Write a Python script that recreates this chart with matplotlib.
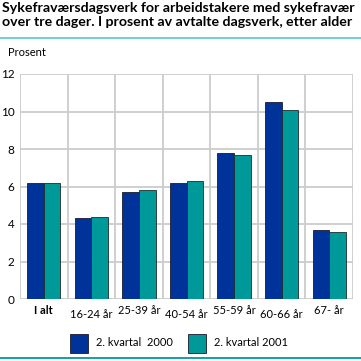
import matplotlib
matplotlib.use("Agg")
from matplotlib import pyplot as plt
from matplotlib.patches import Rectangle
from matplotlib.lines import Line2D
import numpy as np

categories = ["I alt", "16-24 år", "25-39 år", "40-54 år", "55-59 år", "60-66 år", "67- år"]
q2_2000 = [6.2, 4.3, 5.7, 6.2, 7.8, 10.5, 3.7]
q2_2001 = [6.2, 4.4, 5.8, 6.3, 7.7, 10.1, 3.6]
series_names = ["2. kvartal  2000", "2. kvartal 2001"]
yticks = [0, 2, 4, 6, 8, 10, 12]

blue = "#003399"
teal = "#009999"
grid = "#cccccc"

plt.rcParams["font.family"] = ["Lato", "DejaVu Sans"]

fig = plt.figure(figsize=(3.61, 3.61), dpi=100)
ax = fig.add_axes([20 / 361, 62 / 361, 333 / 361, 225 / 361])

x = np.arange(len(categories))
w = 0.35
ax.bar(x - w / 2, q2_2000, w, color=blue, edgecolor="#1a1a2e", linewidth=0.6, zorder=3)
ax.bar(x + w / 2, q2_2001, w, color=teal, edgecolor="#1a2e2e", linewidth=0.6, zorder=3)

ax.set_xlim(-0.5, len(categories) - 0.5)
ax.set_ylim(0, 12)
ax.set_yticks(yticks)
ax.set_yticklabels([str(t) for t in yticks], fontsize=8.5)
ax.set_xticks(x)
ax.set_xticklabels([])
ax.tick_params(axis="both", length=0, pad=4)

# grid: horizontal at ticks, vertical at category boundaries
for t in yticks:
    ax.axhline(t, color=grid, lw=1.3, zorder=1)
for b in np.arange(-0.5, len(categories), 1.0):
    ax.axvline(b, color=grid, lw=1.3, zorder=1)
for s in ax.spines.values():
    s.set_visible(False)

# staggered category labels
for i, c in enumerate(categories):
    off = -4 if i % 2 == 0 else -7
    ax.annotate(c, (i, 0), xycoords="data", xytext=(0, off),
                textcoords="offset points", ha="center", va="top", fontsize=8,
                fontweight="bold" if i == 0 else "normal")

title = fig.text(2 / 361, 1 - 2 / 361,
                 "Sykefraværsdagsverk for arbeidstakere med sykefravær\n"
                 "over tre dager. I prosent av avtalte dagsverk, etter alder",
                 ha="left", va="top", fontsize=9.5, fontweight="bold", linespacing=1.15)
fig.canvas.draw()
tw = title.get_window_extent().width
title.set_fontsize(9.5 * 352 / tw)

fig.add_artist(Line2D([0, 1], [1 - 38 / 361] * 2, color="#66cccc", lw=1.3))
fig.add_artist(Line2D([0, 1], [1 - 358 / 361] * 2, color="#009999", lw=1.3))
fig.text(8 / 361, 1 - 53 / 361, "Prosent", ha="left", va="center", fontsize=8)

# legend
for px, name, col in [(70, series_names[0], blue), (188, series_names[1], teal)]:
    fig.add_artist(Rectangle((px / 361, 1 - 353 / 361), 18 / 361, 19 / 361,
                             transform=fig.transFigure, facecolor=col,
                             edgecolor="#1a1a2e", lw=0.6))
    fig.text((px + 26) / 361, 1 - 343 / 361, name, ha="left", va="center", fontsize=8)

fig.savefig("out.png", dpi=100)
